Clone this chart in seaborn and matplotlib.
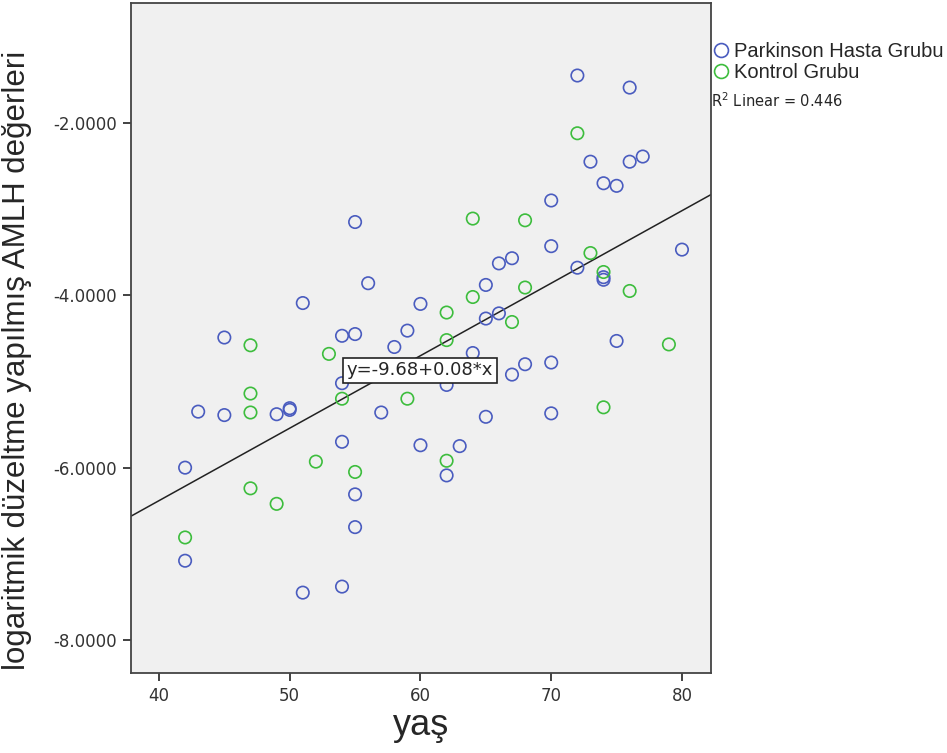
import numpy as np
import pandas as pd
import seaborn as sns
import matplotlib.pyplot as plt
from matplotlib.lines import Line2D
from matplotlib.ticker import FuncFormatter

# Parkinson Hasta Grubu (blue)
pd_age = [72, 76, 73, 76, 77, 74, 75, 70, 55, 70, 80, 67, 66, 72, 74, 74, 56, 65,
          51, 60, 66, 65, 59, 55, 54, 45, 75, 58, 64, 70, 68, 67, 54, 62, 43, 45,
          49, 50, 50, 57, 70, 65, 54, 60, 63, 42, 62, 55, 55, 42, 54, 51]
pd_val = [-1.45, -1.59, -2.45, -2.45, -2.39, -2.70, -2.73, -2.90, -3.15, -3.43, -3.47, -3.57,
          -3.63, -3.68, -3.79, -3.82, -3.86, -3.88, -4.09, -4.10, -4.21, -4.27, -4.41, -4.45,
          -4.47, -4.49, -4.53, -4.60, -4.67, -4.78, -4.80, -4.92, -5.02, -5.04, -5.35, -5.39,
          -5.38, -5.31, -5.33, -5.36, -5.37, -5.41, -5.70, -5.74, -5.75, -6.00, -6.09, -6.31,
          -6.69, -7.08, -7.38, -7.45]

# Kontrol Grubu (green)
ctrl_age = [72, 64, 68, 73, 74, 68, 76, 64, 62, 67, 62, 47, 79, 53, 47, 54, 59, 47,
            74, 52, 62, 55, 47, 49, 42]
ctrl_val = [-2.12, -3.11, -3.13, -3.51, -3.73, -3.91, -3.95, -4.02, -4.20, -4.31, -4.52,
            -4.58, -4.57, -4.68, -5.14, -5.20, -5.20, -5.36, -5.30, -5.93, -5.92, -6.05,
            -6.24, -6.42, -6.81]

groups = ["Parkinson Hasta Grubu", "Kontrol Grubu"]
colors = {"Parkinson Hasta Grubu": "#4a5cbf", "Kontrol Grubu": "#3dbd3d"}
equation = "y=-9.68+0.08*x"
r2_text = "R$^2$ Linear = 0.446"
xlab = "yaş"
ylab = "logaritmik düzeltme yapılmış AMLH değerleri"

df = pd.DataFrame({
    "yas": pd_age + ctrl_age,
    "deger": pd_val + ctrl_val,
    "grup": [groups[0]] * len(pd_age) + [groups[1]] * len(ctrl_age),
})

sns.set_style("white")
plt.rcParams["axes.unicode_minus"] = False
plt.rcParams["font.family"] = ["DejaVu Sans"]

fig = plt.figure(figsize=(9.47, 7.53), dpi=100)
ax = fig.add_axes([0.1383, 0.1062, 0.6125, 0.890])
ax.set_facecolor("#f0f0f0")
ax.set_xlim(37.86, 82.22)
ax.set_ylim(-8.383, -0.607)

sns.scatterplot(data=df, x="yas", y="deger", hue="grup", palette=colors,
                s=80, linewidth=1.2, legend=False, ax=ax, zorder=3)
coll = ax.collections[0]
fc = coll.get_facecolors()
coll.set_edgecolors(fc)
coll.set_facecolors("none")

sns.regplot(data=df, x="yas", y="deger", scatter=False, ci=None, truncate=False,
            line_kws={"color": "#222222", "lw": 1.1, "zorder": 2}, ax=ax)
ax.set_xlim(37.86, 82.22)
ax.set_ylim(-8.383, -0.607)

ax.text(59.96, -4.87, equation, ha="center", va="center", fontsize=13, zorder=5,
        bbox=dict(boxstyle="square,pad=0.2", fc="white", ec="#222222", lw=1.2))

ax.set_xticks([40, 50, 60, 70, 80])
ax.set_yticks([-8, -6, -4, -2])
ax.yaxis.set_major_formatter(FuncFormatter(lambda v, p: "{:.4f}".format(v)))
ax.tick_params(axis="both", direction="out", length=6, width=1.3, color="#333333",
               labelsize=12, labelcolor="#333333", left=True, bottom=True, pad=4)
for sp in ax.spines.values():
    sp.set_color("#444444")
    sp.set_linewidth(1.3)

ax.set_xlabel(xlab, fontsize=26, family=["Liberation Sans", "DejaVu Sans"])
ax.set_ylabel(ylab, fontsize=22.5, family=["Liberation Sans", "DejaVu Sans"])
ax.xaxis.set_label_coords(0.5, -0.052)
ax.yaxis.set_label_coords(-0.17, 0.467)

handles = [Line2D([], [], ls="none", marker="o", ms=10, mfc="none", mew=1.2,
                  mec=colors[g]) for g in groups]
fig.legend(handles, groups, loc="upper left", bbox_to_anchor=(0.7425, 0.958),
           frameon=False, handlelength=0.8, handletextpad=0.25, borderpad=0,
           labelspacing=0.12, prop={"family": ["Liberation Sans", "DejaVu Sans"], "size": 14.5})
fig.text(0.751, 1 - 101 / 753, r2_text, ha="left", va="center", fontsize=10.5)

fig.savefig("out.png", dpi=100)
